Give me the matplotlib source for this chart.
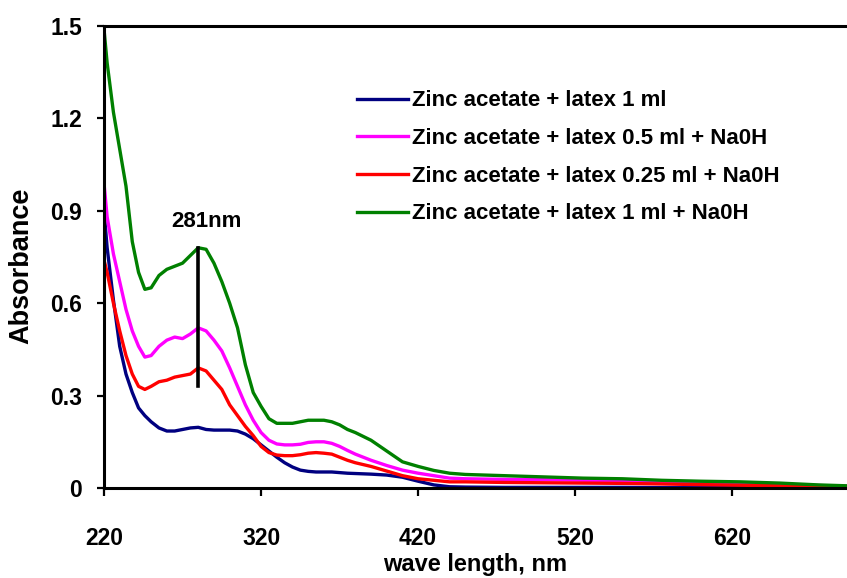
import numpy as np
import matplotlib.pyplot as plt
from matplotlib import font_manager

plt.rcParams['font.family'] = ['Liberation Sans', 'DejaVu Sans']
plt.rcParams['font.weight'] = 'bold'

# condensed face for the axis numbers when it is installed
installed = {f.name for f in font_manager.fontManager.ttflist}
tick_family = 'Liberation Sans Narrow' if 'Liberation Sans Narrow' in installed else 'Liberation Sans'
tick_size = 19 if tick_family == 'Liberation Sans Narrow' else 16.5

wavelength = [220, 222, 226, 230, 234, 238, 242, 246, 250, 255, 260, 265, 270, 275,
              280, 285, 290, 295, 300, 305, 310, 315, 320, 325, 330, 335, 340, 345,
              350, 355, 360, 365, 370, 375, 380, 390, 400, 410, 420, 430, 440, 450,
              475, 500, 525, 550, 575, 600, 625, 650, 675, 700]

latex_1ml = [0.90, 0.78, 0.61, 0.46, 0.37, 0.31, 0.26, 0.235, 0.215, 0.195, 0.185, 0.185,
             0.19, 0.195, 0.197, 0.19, 0.188, 0.188, 0.188, 0.185, 0.175, 0.16, 0.14,
             0.12, 0.10, 0.082, 0.068, 0.058, 0.054, 0.052, 0.052, 0.052, 0.05, 0.048,
             0.047, 0.045, 0.042, 0.035, 0.022, 0.01, 0.004, 0.003, 0.002, 0.002,
             0.002, 0.002, 0.001, 0.001, 0.001, 0.001, 0.001, 0.001]

latex_05ml_naoh = [0.99, 0.88, 0.76, 0.67, 0.58, 0.51, 0.46, 0.425, 0.43, 0.46, 0.48, 0.49,
                   0.485, 0.50, 0.52, 0.51, 0.48, 0.445, 0.39, 0.33, 0.27, 0.22, 0.18,
                   0.155, 0.143, 0.14, 0.14, 0.142, 0.148, 0.15, 0.15, 0.145, 0.135,
                   0.122, 0.11, 0.09, 0.073, 0.058, 0.048, 0.04, 0.032, 0.03, 0.028,
                   0.027, 0.025, 0.022, 0.02, 0.018, 0.015, 0.012, 0.008, 0.005]

latex_025ml_naoh = [0.74, 0.70, 0.60, 0.51, 0.43, 0.37, 0.33, 0.32, 0.33, 0.345, 0.35, 0.36,
                    0.365, 0.37, 0.39, 0.38, 0.35, 0.32, 0.27, 0.235, 0.20, 0.17, 0.135,
                    0.115, 0.107, 0.105, 0.105, 0.108, 0.113, 0.115, 0.113, 0.11, 0.10,
                    0.09, 0.082, 0.07, 0.055, 0.04, 0.03, 0.025, 0.02, 0.02, 0.018,
                    0.017, 0.016, 0.015, 0.013, 0.011, 0.009, 0.007, 0.005, 0.004]

latex_1ml_naoh = [1.49, 1.38, 1.22, 1.10, 0.98, 0.80, 0.70, 0.645, 0.65, 0.69, 0.71, 0.72,
                  0.73, 0.755, 0.78, 0.775, 0.73, 0.67, 0.60, 0.52, 0.40, 0.31, 0.265,
                  0.225, 0.21, 0.21, 0.21, 0.215, 0.22, 0.22, 0.22, 0.215, 0.205, 0.19,
                  0.18, 0.155, 0.12, 0.085, 0.07, 0.057, 0.048, 0.044, 0.04, 0.036,
                  0.032, 0.03, 0.025, 0.022, 0.02, 0.016, 0.01, 0.006]

labels = ['Zinc acetate + latex 1 ml',
          'Zinc acetate + latex 0.5 ml + Na0H',
          'Zinc acetate + latex 0.25 ml + Na0H',
          'Zinc acetate + latex 1 ml + Na0H']
colors = ['#000080', '#ff00ff', '#ff0000', '#008000']

peak_nm = 280
peak_span = [0.33, 0.78]

fig = plt.figure(figsize=(8.47, 5.78), dpi=100)
ax = fig.add_axes([104 / 847, 90 / 578, 743 / 847, 462 / 578])

for ys, lab, c in zip([latex_1ml, latex_05ml_naoh, latex_025ml_naoh, latex_1ml_naoh], labels, colors):
    ax.plot(wavelength, ys, color=c, lw=2.4, label=lab)

# marker for the 281 nm band
ax.plot([peak_nm, peak_nm], peak_span, color='black', lw=2.6)
ax.text(285, 0.865, '281nm', ha='center', va='center', fontsize=16)

ax.set_xlim(220, 693)
ax.set_ylim(0, 1.5)
ax.set_xticks([220, 320, 420, 520, 620])
ax.set_yticks([0, 0.3, 0.6, 0.9, 1.2, 1.5])
ax.set_yticklabels(['0', '0.3', '0.6', '0.9', '1.2', '1.5'])

ax.spines['right'].set_visible(False)
for s in ['left', 'bottom', 'top']:
    ax.spines[s].set_linewidth(2.2)
ax.tick_params(axis='x', length=6, width=1.6, pad=22)
ax.tick_params(axis='y', length=5, width=1.6, pad=11)
for t in ax.get_xticklabels() + ax.get_yticklabels():
    t.set_family([tick_family, 'DejaVu Sans'])
    t.set_fontsize(tick_size)
    t.set_fontweight('bold')

ax.set_xlabel('wave length, nm', fontsize=17, fontweight='bold', labelpad=2)
ax.set_ylabel('Absorbance', fontsize=19.5, fontweight='bold')
ax.yaxis.set_label_coords(-0.094, 0.48)

ax.legend(loc='upper left', bbox_to_anchor=(0.3136, 0.904), frameon=False,
          fontsize=16, handlelength=2.3, handletextpad=0.18, labelspacing=0.75)

fig.savefig('out.png', dpi=100)
